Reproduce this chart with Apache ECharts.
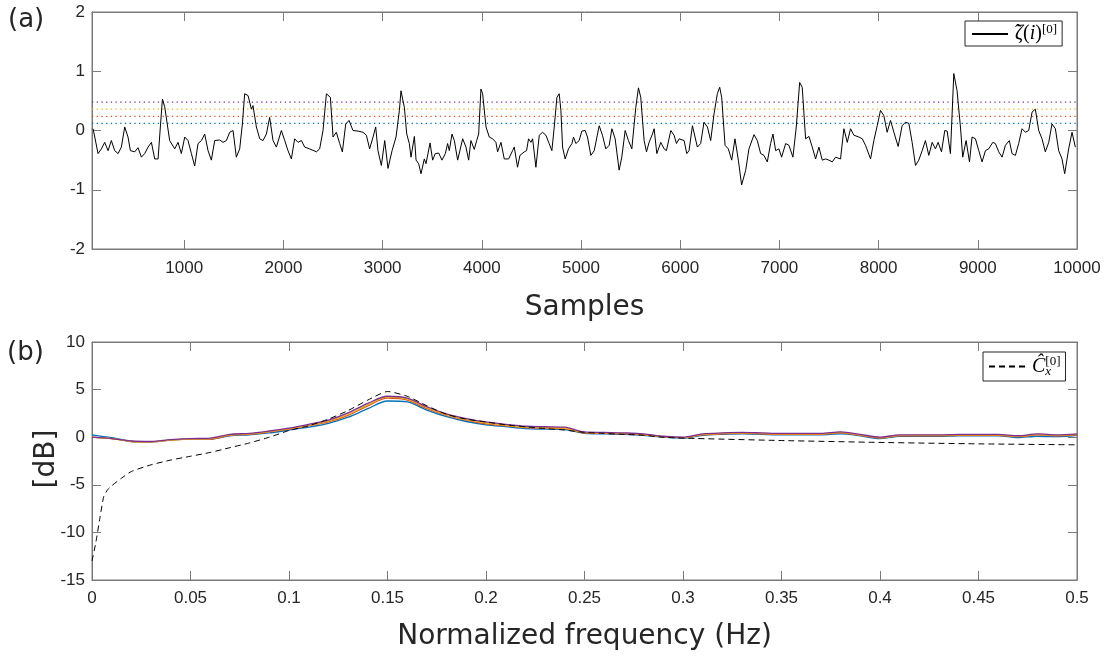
<!DOCTYPE html>
<html>
<head>
<meta charset="utf-8">
<script src="https://cdn.jsdelivr.net/npm/echarts@6/dist/echarts.min.js"></script>
<style>html,body{margin:0;padding:0;background:#fff;}#c{width:1109px;height:661px;}</style>
</head>
<body>
<div id="c"></div>
<script>
// ---------- DATA ----------
const sampleTicks = [1000,2000,3000,4000,5000,6000,7000,8000,9000,10000];
const sampleRange = [70, 10000];
const thresholds = [0.12, 0.24, 0.36, 0.48];
const signalA = [[81,0.03],[131,-0.39],[165,-0.31],[198,-0.20],[232,-0.34],[265,-0.17],[299,-0.34],[333,-0.39],[366,-0.28],[400,0.06],[433,-0.11],[457,-0.34],[501,-0.36],[534,-0.29],[568,-0.45],[601,-0.39],[635,-0.28],[669,-0.20],[702,-0.48],[736,-0.48],[759,0.06],[780,0.53],[803,0.40],[853,-0.17],[904,-0.31],[937,-0.20],[971,-0.39],[1005,-0.11],[1038,-0.17],[1072,-0.39],[1105,-0.60],[1139,-0.22],[1173,-0.17],[1206,-0.06],[1240,-0.34],[1273,-0.50],[1307,-0.17],[1357,-0.16],[1391,-0.20],[1425,-0.17],[1458,-0.03],[1492,0.00],[1525,-0.45],[1559,-0.31],[1586,0.11],[1609,0.62],[1643,0.59],[1677,0.36],[1693,0.42],[1727,0.06],[1761,-0.14],[1794,-0.17],[1828,-0.06],[1861,0.22],[1895,-0.17],[1929,-0.28],[1979,0.00],[2013,-0.17],[2046,-0.34],[2080,-0.48],[2113,-0.14],[2147,-0.20],[2181,-0.17],[2214,-0.28],[2265,-0.31],[2332,-0.36],[2365,-0.31],[2399,0.00],[2433,0.62],[2449,0.64],[2473,0.56],[2500,-0.11],[2533,-0.03],[2567,-0.22],[2594,-0.36],[2628,0.11],[2661,0.17],[2701,0.00],[2752,-0.01],[2802,-0.03],[2836,-0.08],[2869,-0.31],[2903,-0.11],[2930,0.06],[2953,-0.34],[2987,-0.59],[3021,-0.17],[3054,-0.64]];
const signalB = [[3068,-0.67],[3095,-0.34],[3135,-0.11],[3169,0.34],[3185,0.67],[3202,0.67],[3219,0.39],[3243,-0.06],[3269,-0.22],[3286,-0.45],[3320,-0.10],[3337,-0.50],[3363,-0.56],[3387,-0.73],[3420,-0.48],[3437,-0.56],[3478,-0.21],[3504,-0.50],[3531,-0.39],[3565,-0.38],[3598,-0.50],[3632,-0.39],[3655,-0.22],[3672,-0.34],[3699,-0.06],[3723,-0.17],[3756,-0.50],[3773,-0.48],[3807,-0.14],[3840,-0.28],[3867,-0.50],[3890,-0.17],[3924,-0.32],[3948,-0.17],[3968,-0.06],[3991,0.70],[4008,0.62],[4042,0.06],[4075,-0.11],[4109,-0.14],[4142,-0.20],[4159,-0.36],[4193,-0.20],[4226,-0.48],[4270,-0.48],[4310,-0.34],[4327,-0.28],[4360,-0.62],[4384,-0.42],[4428,-0.36],[4451,-0.34],[4471,-0.14],[4495,-0.20],[4512,-0.14],[4545,-0.62],[4579,-0.08],[4612,-0.03],[4646,-0.08],[4679,-0.22],[4706,-0.34],[4730,0.06],[4757,0.56],[4780,0.62],[4797,0.34],[4814,-0.28],[4840,-0.48],[4874,-0.31],[4908,-0.22],[4924,-0.11],[4948,-0.22],[4981,-0.17],[5008,-0.01],[5042,0.00],[5065,-0.11],[5099,-0.42],[5133,-0.34],[5183,0.08],[5216,-0.08],[5250,-0.31],[5284,-0.25],[5311,0.03],[5344,-0.14],[5384,-0.67],[5411,-0.45],[5445,0.00],[5478,-0.17],[5512,-0.31],[5552,0.39],[5579,0.72],[5602,0.56],[5636,-0.17],[5660,-0.36],[5686,-0.20],[5720,-0.06],[5737,0.03],[5764,-0.39],[5804,-0.20],[5838,-0.31],[5861,-0.34],[5905,0.00],[5938,-0.08],[5962,-0.22],[5989,-0.14],[6039,-0.17],[6066,-0.39]];
const signalC = [[6089,-0.34],[6123,0.08],[6173,-0.28],[6206,-0.22],[6240,0.14],[6274,0.06],[6307,-0.17],[6341,0.28],[6374,0.62],[6398,0.73],[6418,0.56],[6452,-0.25],[6485,-0.31],[6519,-0.50],[6552,-0.14],[6586,-0.50],[6619,-0.92],[6660,-0.67],[6693,-0.31],[6744,-0.07],[6777,-0.17],[6811,-0.39],[6844,-0.42],[6878,-0.53],[6911,-0.22],[6935,-0.06],[6962,-0.34],[6995,-0.31],[7022,-0.45],[7063,-0.22],[7096,-0.25],[7136,-0.45],[7170,0.06],[7204,0.81],[7230,0.73],[7264,-0.14],[7298,-0.10],[7331,-0.28],[7365,-0.48],[7398,-0.28],[7432,-0.50],[7465,-0.48],[7499,-0.50],[7533,-0.53],[7566,-0.45],[7616,-0.48],[7650,0.03],[7684,-0.20],[7717,0.03],[7751,-0.08],[7801,-0.11],[7835,-0.14],[7868,-0.25],[7919,-0.48],[7952,-0.17],[7986,0.08],[8019,0.34],[8053,0.25],[8086,-0.03],[8120,0.17],[8154,-0.03],[8197,-0.27],[8237,0.08],[8271,0.14],[8305,0.12],[8338,-0.20],[8372,-0.59],[8405,-0.50],[8439,-0.34],[8472,-0.17],[8506,-0.42],[8540,-0.20],[8573,-0.31],[8600,-0.20],[8634,-0.36],[8667,0.00],[8691,-0.01],[8724,-0.39],[8758,0.96],[8791,0.67],[8825,0.06],[8848,-0.45],[8882,-0.17],[8916,-0.53],[8942,-0.11],[8976,-0.14],[9010,-0.34],[9043,-0.53],[9077,-0.34],[9110,-0.31],[9151,-0.20],[9177,-0.22],[9211,-0.36],[9245,-0.45],[9278,-0.25],[9318,-0.17],[9345,-0.39],[9379,-0.42],[9412,-0.22],[9446,0.03],[9480,-0.03],[9513,0.00],[9547,0.31],[9580,0.36],[9614,0.00],[9647,-0.14],[9681,-0.36],[9715,-0.20],[9748,0.11],[9782,0.03],[9815,-0.34],[9849,-0.48],[9876,-0.73],[9916,-0.31],[9950,-0.03],[9983,-0.28]];

const freq = [0,0.01,0.02,0.03,0.04,0.05,0.06,0.07,0.08,0.09,0.1,0.11,0.12,0.13,0.14,0.15,0.16,0.17,0.18,0.19,0.2,0.21,0.22,0.23,0.24,0.25,0.26,0.27,0.28,0.29,0.3,0.31,0.32,0.33,0.34,0.35,0.36,0.37,0.38,0.39,0.4,0.41,0.42,0.43,0.44,0.45,0.46,0.47,0.48,0.49,0.5];
const specBlue   = [0.25,-0.05,-0.45,-0.5,-0.3,-0.2,-0.2,0.15,0.25,0.45,0.75,1.05,1.45,2.1,3.0,3.8,3.7,2.85,2.15,1.65,1.3,1.1,0.9,0.85,0.8,0.4,0.35,0.3,0.2,0.0,-0.1,0.2,0.3,0.35,0.3,0.25,0.25,0.25,0.35,0.15,-0.15,0.1,0.1,0.1,0.15,0.15,0.15,-0.05,0.1,0.05,0.2];
const specOrange = [0.0,-0.15,-0.45,-0.5,-0.3,-0.2,-0.2,0.2,0.3,0.55,0.85,1.2,1.6,2.3,3.3,4.1,3.9,3.0,2.3,1.8,1.4,1.2,1.0,0.95,0.9,0.45,0.4,0.35,0.25,0.05,-0.05,0.25,0.35,0.4,0.35,0.3,0.3,0.3,0.45,0.2,-0.1,0.15,0.15,0.15,0.2,0.2,0.2,0.05,0.25,0.15,0.25];
const specYellow = [0.0,-0.15,-0.45,-0.5,-0.3,-0.2,-0.15,0.25,0.35,0.6,0.9,1.25,1.7,2.4,3.4,4.2,4.0,3.1,2.35,1.85,1.5,1.25,1.05,1.0,0.95,0.5,0.45,0.4,0.3,0.05,-0.05,0.3,0.4,0.45,0.4,0.35,0.35,0.35,0.5,0.25,-0.05,0.2,0.2,0.2,0.25,0.25,0.25,0.1,0.3,0.2,0.3];
const specPurple = [0.0,-0.15,-0.4,-0.45,-0.25,-0.15,-0.1,0.3,0.4,0.65,0.95,1.35,1.8,2.55,3.55,4.3,4.1,3.2,2.45,1.95,1.6,1.35,1.15,1.1,1.05,0.55,0.5,0.45,0.35,0.1,0.0,0.35,0.45,0.5,0.45,0.4,0.4,0.4,0.55,0.3,0.0,0.25,0.25,0.25,0.3,0.3,0.3,0.15,0.35,0.25,0.35];
const dashFreq = [0,0.002,0.004,0.006,0.008,0.01,0.015,0.02,0.03,0.04,0.05,0.06,0.07,0.08,0.09,0.1,0.11,0.12,0.13,0.14,0.15,0.16,0.17,0.18,0.19,0.2,0.21,0.22,0.23,0.24,0.25,0.26,0.27,0.28,0.29,0.3,0.35,0.4,0.45,0.5];
const dashVals = [-13,-11,-8.5,-6.2,-5.5,-5.1,-4.3,-3.6,-2.9,-2.4,-2.0,-1.6,-1.1,-0.6,0.0,0.7,1.2,1.9,2.8,3.9,4.8,4.3,3.3,2.4,1.9,1.6,1.3,1.1,0.9,0.75,0.5,0.4,0.3,0.2,0.0,-0.1,-0.35,-0.55,-0.7,-0.8];

// ---------- CHART ----------
const colors = ['#0072BD','#D95319','#EDB120','#7E2F8E'];
const axisCol = '#7a7a7a';
const labCol = '#262626';
const labFont = 'Liberation Sans';
const L = 92, W = 985;
const plain = v => String(v);

function xAx(grid, min, max, opts, pos) {
  return Object.assign({
    type: 'value', gridIndex: grid, min: min, max: max, position: pos,
    axisLine: {show: true, onZero: false, lineStyle: {color: axisCol, width: 1}},
    axisTick: {show: true, inside: true, length: 9, lineStyle: {color: axisCol}},
    axisLabel: {color: labCol, fontFamily: labFont, fontSize: 17, margin: 11, formatter: plain},
    splitLine: {show: false}
  }, opts);
}
function yAx(grid, min, max, interval, pos, show) {
  return {
    type: 'value', gridIndex: grid, min: min, max: max, interval: interval, position: pos,
    axisLine: {show: true, onZero: false, lineStyle: {color: axisCol, width: 1}},
    axisTick: {show: true, inside: true, length: 9, lineStyle: {color: axisCol}},
    axisLabel: {show: show, color: labCol, fontFamily: labFont, fontSize: 17, margin: 7, formatter: plain},
    splitLine: {show: false}
  };
}
const tickStyle = {show: true, inside: true, length: 9, lineStyle: {color: axisCol}};
const custTop = {axisTick: Object.assign({customValues: sampleTicks}, tickStyle),
                 axisLabel: {color: labCol, fontFamily: labFont, fontSize: 17, margin: 11, formatter: plain, customValues: sampleTicks}};
const custTopHidden = {axisTick: Object.assign({customValues: sampleTicks}, tickStyle),
                 axisLabel: {show: false, customValues: sampleTicks}};

const series = [];
thresholds.forEach((t, i) => {
  series.push({type: 'line', xAxisIndex: 0, yAxisIndex: 0, symbol: 'none', silent: true,
    data: [[sampleRange[0], t], [sampleRange[1], t]],
    lineStyle: {color: colors[i], width: 1.3, type: [1.3, 3.4]}, z: 2});
});
series.push({name: 'zeta', type: 'line', xAxisIndex: 0, yAxisIndex: 0, symbol: 'none', legendIcon: 'none',
  data: signalA.concat(signalB, signalC), lineStyle: {color: '#000', width: 1}, itemStyle: {color: '#000'}, z: 3});
[specBlue, specOrange, specYellow, specPurple].forEach((arr, i) => {
  series.push({type: 'line', xAxisIndex: 2, yAxisIndex: 2, symbol: 'none', smooth: 0.3,
    data: freq.map((f, k) => [f, arr[k]]), lineStyle: {color: colors[i], width: 1.3}, z: 2});
});
series.push({name: 'C', type: 'line', xAxisIndex: 2, yAxisIndex: 2, symbol: 'none', smooth: 0.2,
  data: dashFreq.map((f, k) => [f, dashVals[k]]), lineStyle: {color: '#000', width: 1, type: [6, 4]}, itemStyle: {color: '#000'}, z: 4});

const mathFont = 'Liberation Serif';
const option = {
  animation: false,
  backgroundColor: '#fff',
  grid: [
    {left: L, width: W, top: 12, height: 237, show: true, borderColor: axisCol, borderWidth: 1, backgroundColor: 'transparent'},
    {left: L, width: W, top: 342, height: 238, show: true, borderColor: axisCol, borderWidth: 1, backgroundColor: 'transparent'}
  ],
  xAxis: [
    xAx(0, sampleRange[0], sampleRange[1], custTop, 'bottom'),
    xAx(0, sampleRange[0], sampleRange[1], custTopHidden, 'top'),
    xAx(1, 0, 0.5, {interval: 0.05, axisLabel: {color: labCol, fontFamily: labFont, fontSize: 17, margin: 10, formatter: plain}}, 'bottom'),
    xAx(1, 0, 0.5, {interval: 0.05, axisLabel: {show: false}}, 'top')
  ],
  yAxis: [
    yAx(0, -2, 2, 1, 'left', true),
    yAx(0, -2, 2, 1, 'right', false),
    yAx(1, -15, 10, 5, 'left', true),
    yAx(1, -15, 10, 5, 'right', false)
  ],
  legend: [
    {data: ['zeta'], left: 965, top: 21, itemWidth: 36, itemHeight: 12, itemGap: 4,
     padding: [2, 5, 2, 6], borderColor: '#262626', borderWidth: 1, backgroundColor: '#fff',
     selectedMode: false, itemStyle: {opacity: 0},
     formatter: () => '{h|ˆ}{i|ζ}{r|(}{i|i}{r|)}{p|[0]}',
     textStyle: {color: '#000', rich: {
       h: {fontFamily: mathFont, fontSize: 18, lineHeight: 12, width: 0, align: 'left', verticalAlign: 'top', padding: [0, 0, 0, 2], color: '#000'},
       i: {fontFamily: mathFont, fontStyle: 'italic', fontSize: 20, lineHeight: 22, color: '#000'},
       r: {fontFamily: mathFont, fontSize: 20, lineHeight: 22, color: '#000'},
       p: {fontFamily: mathFont, fontSize: 13, lineHeight: 12, verticalAlign: 'top', color: '#000'}
     }}},
    {data: ['C'], left: 983, top: 352, itemWidth: 38, itemHeight: 12, itemGap: 4,
     padding: [3, 5, 3, 5], borderColor: '#262626', borderWidth: 1, backgroundColor: '#fff',
     selectedMode: false, itemStyle: {opacity: 0},
     formatter: () => '{i|Ĉ}{b|x}{p|[0]}',
     textStyle: {color: '#000', rich: {
       i: {fontFamily: mathFont, fontStyle: 'italic', fontSize: 20, lineHeight: 23, color: '#000'},
       b: {fontFamily: mathFont, fontStyle: 'italic', fontSize: 13, lineHeight: 11, width: 0, align: 'left', verticalAlign: 'bottom', color: '#000'},
       p: {fontFamily: mathFont, fontSize: 13, lineHeight: 11, verticalAlign: 'top', color: '#000'}
     }}}
  ],
  graphic: [
    {type: 'text', x: 8, y: 20, style: {text: '(a)', fontFamily: 'DejaVu Sans', fontSize: 26, fill: labCol, verticalAlign: 'middle'}},
    {type: 'text', x: 7, y: 353, style: {text: '(b)', fontFamily: 'DejaVu Sans', fontSize: 26, fill: labCol, verticalAlign: 'middle'}},
    {type: 'text', x: L + W / 2, y: 308, style: {text: 'Samples', fontFamily: 'DejaVu Sans', fontSize: 28, fill: labCol, align: 'center', verticalAlign: 'middle'}},
    {type: 'text', x: L + W / 2, y: 637, style: {text: 'Normalized frequency (Hz)', fontFamily: 'DejaVu Sans', fontSize: 28, fill: labCol, align: 'center', verticalAlign: 'middle'}},
    {type: 'text', x: 47, y: 459, rotation: Math.PI / 2, style: {text: '[dB]', fontFamily: 'DejaVu Sans', fontSize: 28, fill: labCol, align: 'center', verticalAlign: 'middle'}}
  ],
  series: series
};
const chart = echarts.init(document.getElementById('c'), null, {renderer: 'canvas'});
chart.setOption(option);
</script>
</body>
</html>
